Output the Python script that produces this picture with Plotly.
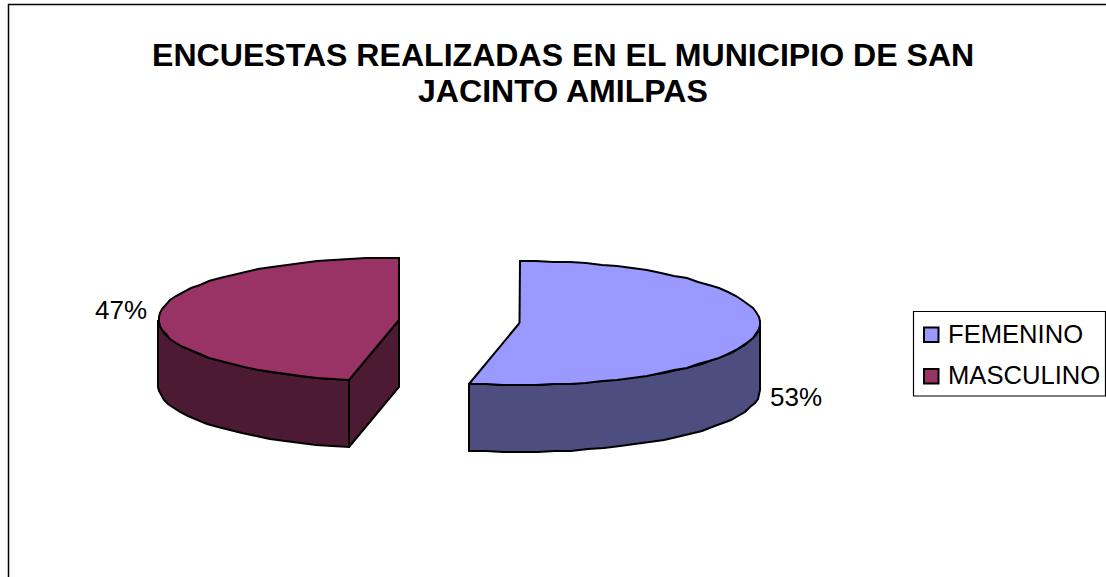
import math
import plotly.graph_objects as go

TITLE_LINES = ["ENCUESTAS REALIZADAS EN EL MUNICIPIO DE SAN", "JACINTO AMILPAS"]
categories = ["FEMENINO", "MASCULINO"]
values = [8, 7]
top_colors = ["#9999FF", "#993366"]
wall_colors = ["#4D4D80", "#4D1A33"]

W, H = 1106, 577
RX, RY, DEPTH = 240.5, 62, 67
CENTERS = [(519.5, 323), (399, 319.5)]
LABEL_POS = [(796, 397), (121, 310)]
STEP_DEG = 4
FONT = "Liberation Sans"

total = sum(values)
sweeps = [360 * v / total for v in values]
fem_end = sweeps[0]


def pt(center, deg, dy=0):
    a = math.radians(deg)
    return (round(center[0] + RX * math.sin(a)), round(center[1] - RY * math.cos(a)) + dy)


def arc(center, a0, a1, dy=0):
    n = max(1, int(abs(a1 - a0) / STEP_DEG))
    return [pt(center, a0 + (a1 - a0) * i / n, dy) for i in range(n + 1)]


def poly(points, color):
    pts = list(points) + [points[0]]
    return go.Scatter(
        x=[p[0] for p in pts], y=[p[1] for p in pts], mode="lines",
        fill="toself", fillcolor=color,
        line=dict(color="black", width=2),
        showlegend=False, hoverinfo="skip",
    )


fig = go.Figure()

# FEMENINO wedge: 0 deg (top) clockwise through its sweep
c = CENTERS[0]
front = arc(c, 90, fem_end)
fig.add_trace(poly(front + arc(c, fem_end, 90, DEPTH), wall_colors[0]))
fig.add_trace(poly([c] + arc(c, 0, fem_end), top_colors[0]))

# MASCULINO wedge: the remaining sweep, ending at the top
c = CENTERS[1]
front = arc(c, fem_end, 270)
cut_corner = pt(c, fem_end)
apex = (c[0], round(c[1]))
fig.add_trace(poly([apex, cut_corner, (cut_corner[0], cut_corner[1] + DEPTH), (apex[0], apex[1] + DEPTH)], wall_colors[1]))
fig.add_trace(poly(front + arc(c, 270, fem_end, DEPTH), wall_colors[1]))
fig.add_trace(poly([apex] + arc(c, fem_end, 360), top_colors[1]))

# percentage labels
for v, (x, y) in zip(values, LABEL_POS):
    fig.add_annotation(x=x, y=y, xref="x", yref="y", text=f"{round(100 * v / total)}%",
                       showarrow=False, font=dict(family=FONT, size=26, color="black"))

# outer frame (runs off the right and bottom of the picture)
fig.add_shape(type="rect", x0=8.5, y0=4.5, x1=W + 50, y1=H + 50, xref="x", yref="y",
              line=dict(color="black", width=1.5), layer="below")

# title
for line, y in zip(TITLE_LINES, (55, 91)):
    fig.add_annotation(x=562.5, y=y, xref="x", yref="y", text=f"<b>{line}</b>", showarrow=False,
                       font=dict(family=FONT, size=32.1, color="black"))

# legend
fig.add_shape(type="rect", x0=913.5, y0=311.5, x1=1105.5, y1=396, xref="x", yref="y",
              line=dict(color="black", width=1.2), fillcolor="white")
for name, col, y in zip(categories, top_colors, (334.5, 376)):
    fig.add_shape(type="rect", x0=924, y0=y - 7, x1=938.5, y1=y + 7.5, xref="x", yref="y",
                  line=dict(color="black", width=2), fillcolor=col)
    fig.add_annotation(x=945.5, y=y - 1, xref="x", yref="y", text=name, xanchor="left", showarrow=False,
                       font=dict(family=FONT, size=25.6, color="black"))

fig.update_layout(
    width=W, height=H, autosize=False,
    margin=dict(l=0, r=0, t=0, b=0),
    paper_bgcolor="white", plot_bgcolor="white",
    xaxis=dict(range=[0, W], visible=False, fixedrange=True),
    yaxis=dict(range=[H, 0], visible=False, fixedrange=True),
    showlegend=False,
)

fig.write_html("out.html", config={"displayModeBar": False},
               post_script="document.body.style.margin='0';")
